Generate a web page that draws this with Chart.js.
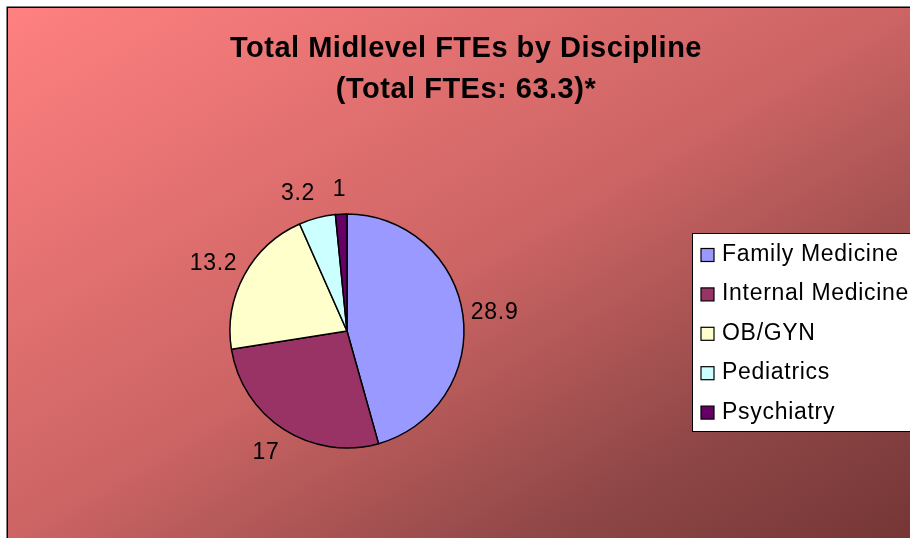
<!DOCTYPE html>
<html>
<head>
<meta charset="utf-8">
<script src="https://cdn.jsdelivr.net/npm/chart.js@4/dist/chart.umd.min.js"></script>
<style>
  html, body { margin: 0; padding: 0; background: #fff; }
  canvas { display: block; }
</style>
</head>
<body>
<canvas id="myChart" width="910" height="538"></canvas>
<script>
const categories = ['Family Medicine', 'Internal Medicine', 'OB/GYN', 'Pediatrics', 'Psychiatry'];
const fteValues = [28.9, 17, 13.2, 3.2, 1];
const sliceColors = ['#9999FF', '#993366', '#FFFFCC', '#CCFFFF', '#660066'];
const titleLines = ['Total Midlevel FTEs by Discipline', '(Total FTEs: 63.3)*'];

const FONT = '"Liberation Sans", Arial, sans-serif';

// gradient fill + frame behind everything
const backdrop = {
  id: 'backdrop',
  beforeDraw(chart) {
    const c = chart.ctx;
    const W = chart.width, H = chart.height;
    const x0 = 8, y0 = 8, w = W - x0, h = H - y0;
    // iso-lines parallel to the anti-diagonal
    const d2 = w * w + h * h;
    const k = 2 * w * h / d2;
    const g = c.createLinearGradient(x0, y0, x0 + h * k, y0 + w * k);
    g.addColorStop(0, '#FF8080');
    g.addColorStop(0.5, '#CC6464');
    g.addColorStop(0.8, '#8E4646');
    g.addColorStop(1, '#763636');
    c.save();
    c.fillStyle = '#fff';
    c.fillRect(0, 0, W, H);
    c.fillStyle = g;
    c.fillRect(x0, y0, w, h);
    c.strokeStyle = '#000';
    c.lineWidth = 1.5;
    c.beginPath();
    c.moveTo(7.25, H);
    c.lineTo(7.25, 7.25);
    c.lineTo(W, 7.25);
    c.stroke();
    c.restore();
  }
};

// value labels just outside each slice, box pushed away from the pie
const outsideLabels = {
  id: 'outsideLabels',
  afterDatasetsDraw(chart) {
    const c = chart.ctx;
    const meta = chart.getDatasetMeta(0);
    c.save();
    c.font = '23px ' + FONT;
    c.letterSpacing = '0.7px';
    c.fillStyle = '#000';
    c.textAlign = 'center';
    c.textBaseline = 'middle';
    meta.data.forEach((arc, i) => {
      const p = arc.getProps(['x', 'y', 'startAngle', 'endAngle', 'outerRadius'], true);
      const mid = (p.startAngle + p.endAngle) / 2;
      const txt = String(fteValues[i]);
      const tw = c.measureText(txt).width;
      const r = p.outerRadius + 8;
      const sx = Math.max(-1, Math.min(1, Math.cos(mid) * 4));
      const x = p.x + Math.cos(mid) * r + sx * tw / 2;
      const y = p.y + Math.sin(mid) * r + Math.sin(mid) * 18;
      c.fillText(txt, x, y + 1);
    });
    c.restore();
  }
};

// title and boxed legend
const decorations = {
  id: 'decorations',
  afterDraw(chart) {
    const c = chart.ctx;
    c.save();
    c.fillStyle = '#000';
    c.font = 'bold 29px ' + FONT;
    c.letterSpacing = '0.5px';
    c.textAlign = 'center';
    c.textBaseline = 'alphabetic';
    c.fillText(titleLines[0], 466, 57);
    c.fillText(titleLines[1], 466, 98);

    // legend box
    const bx = 692, by = 233, bw = 240, bh = 198;
    c.fillStyle = '#fff';
    c.fillRect(bx, by, bw, bh);
    c.strokeStyle = '#000';
    c.lineWidth = 1;
    c.strokeRect(bx + 0.5, by + 0.5, bw, bh);

    c.font = '23px ' + FONT;
    c.letterSpacing = '0.7px';
    c.textAlign = 'left';
    categories.forEach((name, i) => {
      const cy = 255 + i * 39.4;
      c.fillStyle = sliceColors[i];
      c.fillRect(701, cy - 6.5, 13, 13);
      c.strokeStyle = '#000';
      c.lineWidth = 1.2;
      c.strokeRect(701, cy - 6.5, 13, 13);
      c.fillStyle = '#000';
      c.fillText(name, 722, cy + 6);
    });
    c.restore();
  }
};

new Chart(document.getElementById('myChart'), {
  type: 'pie',
  data: {
    labels: categories,
    datasets: [{
      data: fteValues,
      backgroundColor: sliceColors,
      borderColor: '#000',
      borderWidth: 1.5
    }]
  },
  options: {
    responsive: false,
    animation: false,
    events: [],
    layout: {
      padding: { left: 229.25, top: 213.25, right: 445.25, bottom: 89.25 }
    },
    plugins: {
      legend: { display: false },
      title: { display: false },
      tooltip: { enabled: false }
    }
  },
  plugins: [backdrop, outsideLabels, decorations]
});
</script>
</body>
</html>
